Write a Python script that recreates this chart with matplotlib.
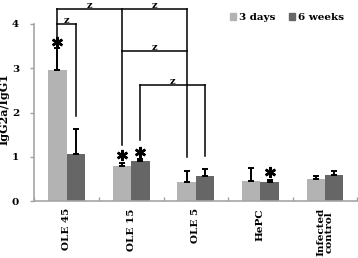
import matplotlib
matplotlib.use("Agg")
import matplotlib.pyplot as plt
import numpy as np
from matplotlib.patches import Patch

categories = ["OLE 45", "OLE 15", "OLE 5", "HePC", "Infected\ncontrol"]
series_names = ["3 days", "6 weeks"]
days3 = [2.97, 0.79, 0.43, 0.45, 0.50]
days3_err = [0.48, 0.07, 0.26, 0.31, 0.07]
weeks6 = [1.06, 0.90, 0.58, 0.43, 0.59]
weeks6_err = [0.57, 0.06, 0.15, 0.04, 0.09]
# significance stars: (group, series, y)
stars = [(0, 0, 3.60), (1, 0, 1.04), (1, 1, 1.12), (3, 1, 0.67)]
# brackets: (list of (group, series, leg bottom), level)
brackets = [
    ([(0, 0, 3.68), (1, 0, 1.27), (2, 0, 0.99)], 4.33),
    ([(0, 0, 4.33), (0, 1, 1.93)], 4.00),
    ([(1, 0, 3.38), (2, 0, 3.38)], 3.38),
    ([(1, 1, 1.38), (2, 1, 1.02)], 2.62),
]

plt.rcParams['font.family'] = ['DejaVu Serif']
plt.rcParams['font.weight'] = 'bold'

fig = plt.figure(figsize=(3.58, 2.58), dpi=100)
ax = fig.add_axes([0.096, 0.22, 0.902, 0.687])

light = "#b3b3b3"
dark = "#666666"
w = 0.285
x = np.arange(len(categories))
ax.bar(x - w / 2, days3, w, color=light, label=series_names[0], zorder=2)
ax.bar(x + w / 2, weeks6, w, color=dark, label=series_names[1], zorder=2)
ax.errorbar(x - w / 2, days3, yerr=[np.zeros(5), days3_err], fmt='none',
            ecolor='black', elinewidth=1.4, capsize=2.5, capthick=1.4, zorder=3)
ax.errorbar(x + w / 2, weeks6, yerr=[np.zeros(5), weeks6_err], fmt='none',
            ecolor='black', elinewidth=1.4, capsize=2.5, capthick=1.4, zorder=3)

def bx(g, s):
    return g + (w / 2 if s == 1 else -w / 2)

for g, s, y in stars:
    ax.plot([bx(g, s)], [y], marker=(6, 2, 0), color='black', markersize=8,
            mew=1.8, clip_on=False, zorder=4)

for legs, level in brackets:
    xs = [bx(g, s) for g, s, _ in legs]
    ax.plot([min(xs), max(xs)], [level, level], color='black', lw=1.1,
            clip_on=False, zorder=4)
    for (g, s, bot), xx in zip(legs, xs):
        if bot < level:
            ax.plot([xx, xx], [bot, level], color='black', lw=1.1,
                    clip_on=False, zorder=4)
    xs_sorted = sorted(set(xs))
    for a, b in zip(xs_sorted[:-1], xs_sorted[1:]):
        ax.text((a + b) / 2, level + 0.03, "z", ha='center', va='baseline',
                fontsize=7, fontweight='bold', clip_on=False)

ax.set_xlim(-0.5, 4.5)
ax.set_ylim(0, 4)
ax.set_yticks([0, 1, 2, 3, 4])
ax.set_xticks(np.arange(-0.5, 4.6, 1.0), minor=False)
ax.set_xticklabels([])
ax.set_xticks(x, minor=True)
ax.set_xticklabels(categories, minor=True, rotation=90, fontsize=7.5,
                   fontweight='bold', linespacing=0.95)
ax.tick_params(axis='x', which='major', direction='in', length=3,
               color='#a0a0a0', width=1)
ax.tick_params(axis='x', which='minor', length=0, pad=5)
ax.tick_params(axis='y', direction='out', length=3, color='#a0a0a0',
               width=1, labelsize=7.5, pad=8)
for sp in ['top', 'right']:
    ax.spines[sp].set_visible(False)
for sp in ['left', 'bottom']:
    ax.spines[sp].set_color('#a6a6a6')
    ax.spines[sp].set_linewidth(1.2)
ax.set_ylabel("IgG2a/IgG1", fontsize=8, fontweight='bold')
ax.yaxis.set_label_coords(-0.077, 0.52)

handles = [Patch(color=light), Patch(color=dark)]
fig.legend(handles, series_names, loc='upper left', bbox_to_anchor=(0.615, 0.985),
           ncol=2, frameon=False, handlelength=0.6,
           handleheight=0.6, handletextpad=0.3, columnspacing=1.3,
           prop={'weight': 'bold', 'size': 7.5})

fig.savefig("out.png", dpi=100)
